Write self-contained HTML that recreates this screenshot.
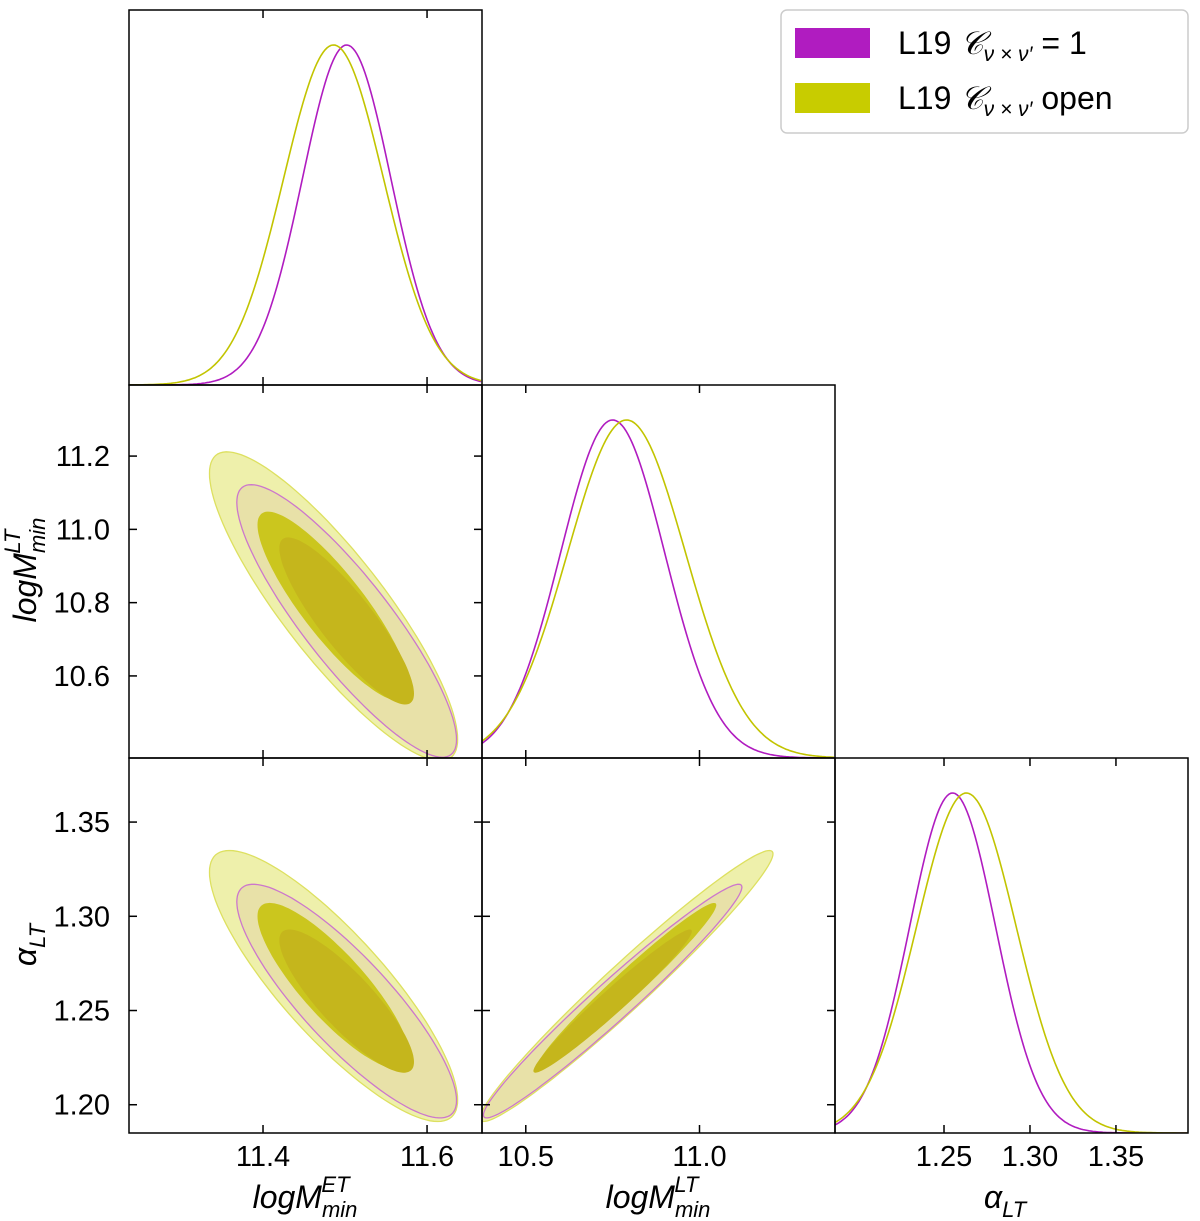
<!DOCTYPE html>
<html><head><meta charset="utf-8">
<style>
body{margin:0;background:#fff;}
svg{display:block;font-family:"Liberation Sans","DejaVu Sans",sans-serif;}
</style></head>
<body>
<svg id="c" width="1200" height="1221" viewBox="0 0 1200 1221" xmlns="http://www.w3.org/2000/svg"></svg>
<script>
// ---- data ----
const paramNames = ["logM_ET", "logM_LT", "alpha_LT"];
const seriesNames = ["L19 C=1", "L19 open"];
const meansFixed = [11.502, 10.75, 1.255];
const meansOpen = [11.486, 10.79, 1.263];
const sigmasFixed = [0.054, 0.150, 0.025];
const sigmasOpen = [0.061, 0.170, 0.029];
const corrFixed = [-0.87, -0.85, 0.975]; // (0,1),(0,2),(1,2)
const corrOpen = [-0.86, -0.84, 0.975];
const ticks0 = [11.4, 11.6];
const ticks1 = [10.6, 10.8, 11.0, 11.2];
const ticks1x = [10.5, 11.0];
const ticks2 = [1.20, 1.25, 1.30, 1.35];
const ticks2x = [1.25, 1.30, 1.35];

const svg = document.getElementById('c');
const NS = "http://www.w3.org/2000/svg";
function mk(tag, attrs, parent){const e=document.createElementNS(NS,tag);for(const k in attrs)e.setAttribute(k,attrs[k]);(parent||svg).appendChild(e);return e;}

const colX = [[129,482],[482,835],[835,1188]];
const rowY = [[10,385],[385,758],[758,1133]];
const ranges = [[11.2366,11.667],[10.374,11.390],[1.1866,1.3919]];
const rangesY = {1:[10.376,11.394],2:[1.185,1.384]};
function sx(p,v){const [a,b]=ranges[p];const [x0,x1]=colX[p];return x0+(v-a)/(b-a)*(x1-x0);}
function sy(p,v){const [a,b]=rangesY[p];const [y0,y1]=rowY[p];return y1-(v-a)/(b-a)*(y1-y0);}
function corrIdx(i,j){return (i===0&&j===1)?0:(i===0&&j===2)?1:2;}

const styles = [
 {outer:"#e8e1a8", inner:"#c5b61c", stroke:"#cc77cc", line:"#b01cc0"},
 {outer:"#eef0ab", inner:"#cbc61e", stroke:"#dde060", line:"#c2c400"}
];
const sets=[[meansOpen,sigmasOpen,corrOpen,styles[1],'open'],[meansFixed,sigmasFixed,corrFixed,styles[0],'fixed']];

function clip(id,c,r){const cp=mk('clipPath',{id:id});mk('rect',{x:colX[c][0],y:rowY[r][0],width:colX[c][1]-colX[c][0],height:rowY[r][1]-rowY[r][0]},cp);}

[[0,1],[0,2],[1,2]].forEach(([i,j])=>{
  const cid='clip'+i+j; clip(cid,i,j);
  const g=mk('g',{'clip-path':'url(#'+cid+')'});
  
  
  const order=[[0,2.48],[1,2.48],[0,1.52],[1,1.52]];
  order.forEach(([si,r])=>{
    const [m,s,cr,st,nm]=sets[si];
    const rho=cr[corrIdx(i,j)];
    let pts=[];
    for(let k=0;k<=120;k++){const t=k/120*2*Math.PI;
      const vx=m[i]+r*s[i]*Math.cos(t);
      const vy=m[j]+r*s[j]*(rho*Math.cos(t)+Math.sqrt(1-rho*rho)*Math.sin(t));
      pts.push(sx(i,vx).toFixed(1)+','+sy(j,vy).toFixed(1));}
    const p=mk('polygon',{points:pts.join(' '),fill:r>2?st.outer:st.inner,stroke:r>2?st.stroke:'none','stroke-width':1.3},g);
    
    
  });
});

[0,1,2].forEach(p=>{
  const cid='c1d'+p; clip(cid,p,p);
  const g=mk('g',{'clip-path':'url(#'+cid+')'});
  const base=rowY[p][1], H=rowY[p][1]-rowY[p][0]-35;
  [sets[1],sets[0]].forEach(([m,s,cr,st,nm])=>{
    let pts=[];
    for(let x=colX[p][0];x<=colX[p][1];x+=2){
      const a=ranges[p][0]+(x-colX[p][0])/(colX[p][1]-colX[p][0])*(ranges[p][1]-ranges[p][0]);
      const y=base-H*Math.exp(-0.5*Math.pow((a-m[p])/s[p],2));
      pts.push(x+','+y.toFixed(1));}
    const l=mk('polyline',{points:pts.join(' '),fill:'none',stroke:st.line,'stroke-width':1.6},g);
    
    
  });
});

function tickX(c,r,vals){vals.forEach(v=>{const x=sx(c,v);
  mk('line',{x1:x,x2:x,y1:rowY[r][1],y2:rowY[r][1]-8,stroke:'#000','stroke-width':1.5});
  mk('line',{x1:x,x2:x,y1:rowY[r][0],y2:rowY[r][0]+8,stroke:'#000','stroke-width':1.5});});}
function tickY(c,r,vals){vals.forEach(v=>{const y=sy(r,v);
  mk('line',{x1:colX[c][0],x2:colX[c][0]+8,y1:y,y2:y,stroke:'#000','stroke-width':1.5});
  mk('line',{x1:colX[c][1],x2:colX[c][1]-8,y1:y,y2:y,stroke:'#000','stroke-width':1.5});});}
for(let r=0;r<3;r++)for(let c=0;c<=r;c++){
  const f=mk('rect',{x:colX[c][0],y:rowY[r][0],width:colX[c][1]-colX[c][0],height:rowY[r][1]-rowY[r][0],fill:'none',stroke:'#000','stroke-width':1.5});
  
  
  tickX(c,r,c===0?ticks0:c===1?ticks1x:ticks2x);
  if(c<r) tickY(c,r,r===1?ticks1:ticks2);
}
function txt(x,y,s,anchor,name){const t=mk('text',{x:x,y:y,'font-size':29,'text-anchor':anchor||'middle'});t.textContent=s;
  
  return t;}
ticks0.forEach(v=>txt(sx(0,v),1166,v.toFixed(1),'middle','x-tick-label'));
ticks1x.forEach(v=>txt(sx(1,v),1166,v.toFixed(1),'middle','x-tick-label'));
ticks2x.forEach(v=>txt(sx(2,v),1166,v.toFixed(2),'middle','x-tick-label'));
ticks1.forEach(v=>txt(110,sy(1,v)+10,v.toFixed(1),'end','y-tick-label'));
ticks2.forEach(v=>txt(110,sy(2,v)+10,v.toFixed(2),'end','y-tick-label'));
</script>
<svg width="1200" height="1221" style="position:absolute;left:0;top:0" xmlns="http://www.w3.org/2000/svg">
<g font-family="Liberation Sans, sans-serif" font-size="32" font-style="italic">
<text x="305" y="1208" text-anchor="middle">logM<tspan font-size="22" dy="9">min</tspan><tspan font-size="22" dx="-36" dy="-25">ET</tspan></text>
<text x="658" y="1208" text-anchor="middle">logM<tspan font-size="22" dy="9">min</tspan><tspan font-size="22" dx="-36" dy="-25">LT</tspan></text>
<text x="1005" y="1208" text-anchor="middle">α<tspan font-size="22" dy="9">LT</tspan></text>
<text transform="translate(36,570) rotate(-90)" text-anchor="middle">logM<tspan font-size="22" dy="9">min</tspan><tspan font-size="22" dx="-36" dy="-25">LT</tspan></text>
<text transform="translate(36,945) rotate(-90)" text-anchor="middle">α<tspan font-size="22" dy="9">LT</tspan></text>
</g>
<g>
<rect x="781" y="10" width="407" height="123" rx="6" fill="#fff" stroke="#ccc" stroke-width="1.5"/>
<rect x="795" y="28" width="75" height="30" fill="#b01cc0"/>
<rect x="795" y="83" width="75" height="30" fill="#c8cc00"/>
<text x="898" y="54" font-size="32" font-family="Liberation Sans, sans-serif">L19 <tspan font-style="italic" font-family="Liberation Serif, serif">𝒞</tspan><tspan font-size="21" dy="7" font-style="italic">ν × ν′</tspan><tspan dy="-7"> = 1</tspan></text>
<text x="898" y="109" font-size="32" font-family="Liberation Sans, sans-serif">L19 <tspan font-style="italic" font-family="Liberation Serif, serif">𝒞</tspan><tspan font-size="21" dy="7" font-style="italic">ν × ν′</tspan><tspan dy="-7"> open</tspan></text>
</g>
</svg>
</body></html>
